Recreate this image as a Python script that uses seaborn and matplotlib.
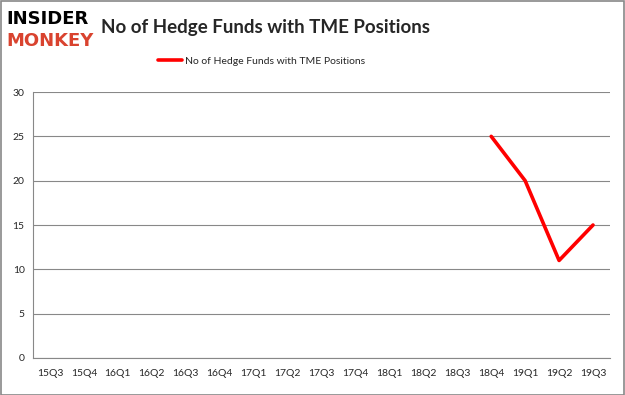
import numpy as np
import pandas as pd
import matplotlib
matplotlib.use("Agg")
import matplotlib.pyplot as plt
import seaborn as sns

quarters = ["15Q3", "15Q4", "16Q1", "16Q2", "16Q3", "16Q4", "17Q1", "17Q2", "17Q3",
            "17Q4", "18Q1", "18Q2", "18Q3", "18Q4", "19Q1", "19Q2", "19Q3"]
funds = [np.nan] * 13 + [25, 20, 11, 15]
series_name = "No of Hedge Funds with TME Positions"

df = pd.DataFrame({"quarter": np.arange(len(quarters)), "funds": funds})
df = df.dropna()

sns.set_style("white")
plt.rcParams['font.family'] = ['Lato', 'DejaVu Sans']

fig = plt.figure(figsize=(6.25, 3.95), dpi=100)
ax = fig.add_axes([0.0528, 0.0937, 0.9232, 0.6733])

sns.lineplot(data=df, x="quarter", y="funds", color="#ff0000", linewidth=2.6,
             ax=ax, label=series_name, legend=False)

ax.set_xlim(-0.5, len(quarters) - 0.5)
ax.set_ylim(0, 30)
ax.set_yticks(range(0, 31, 5))
ax.set_xticks(range(len(quarters)))
ax.set_xticklabels(quarters)
ax.set_xticks(np.arange(-0.5, len(quarters), 1), minor=True)
ax.tick_params(axis="x", which="major", length=0, labelsize=7.5, pad=8)
ax.tick_params(axis="x", which="minor", length=4, color="#888888", width=0.8)
ax.tick_params(axis="y", length=0, labelsize=7.5, pad=6)
ax.set_xlabel("")
ax.set_ylabel("")
ax.grid(axis="y", color="#888888", linewidth=0.8)
for s in ["top", "right"]:
    ax.spines[s].set_visible(False)
for s in ["left", "bottom"]:
    ax.spines[s].set_color("#888888")
    ax.spines[s].set_linewidth(0.8)

fig.text(0.162, 0.93, series_name, fontsize=13.5, fontweight="bold", va="center", ha="left")
fig.text(0.01, 0.953, "INSIDER", fontsize=13, fontweight="heavy", color="black",
         va="center", ha="left", family=["DejaVu Sans"])
fig.text(0.01, 0.897, "MONKEY", fontsize=13, fontweight="heavy", color="#d9432f",
         va="center", ha="left", family=["DejaVu Sans"])

handles, labels = ax.get_legend_handles_labels()
fig.legend(handles, labels, loc="center", bbox_to_anchor=(0.418, 0.845), frameon=False,
           fontsize=7.5, handlelength=2.3, handletextpad=0.3)

fig.patches.append(plt.Rectangle((0.001, 0.001), 0.997, 0.997, transform=fig.transFigure,
                                 fill=False, edgecolor="#888888", linewidth=1.2))

fig.savefig("out.png", dpi=100)
